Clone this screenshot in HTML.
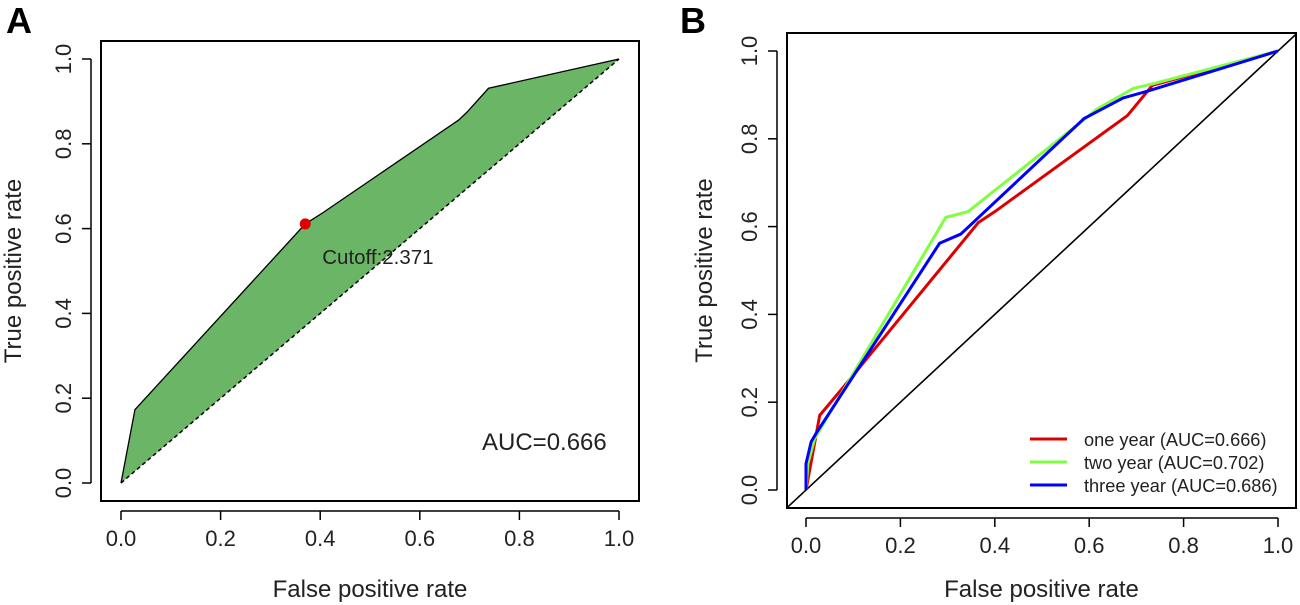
<!DOCTYPE html>
<html><head><meta charset="utf-8"><style>
html,body{margin:0;padding:0;background:#fff;}
svg{display:block;font-family:"Liberation Sans",Arial,sans-serif;}
</style></head><body>
<svg id="fig" width="1300" height="605" viewBox="0 0 1300 605" xmlns="http://www.w3.org/2000/svg">
<text x="6" y="33" font-size="36" font-weight="bold">A</text>
<text x="680" y="33" font-size="36" font-weight="bold">B</text>
<g id="pa"></g>
<g id="pb"></g>
</svg>
<script>
const ticks=[0,0.2,0.4,0.6,0.8,1.0];
const tickLabels=["0.0","0.2","0.4","0.6","0.8","1.0"];
const aFpr=[0,0.028,0.37,0.406,0.678,0.695,0.738,1];
const aTpr=[0,0.173,0.611,0.638,0.856,0.875,0.931,1];
const cutoffFpr=0.37, cutoffTpr=0.611;
const oneFpr=[0,0.029,0.079,0.365,0.4,0.681,0.734,1];
const oneTpr=[0,0.17,0.234,0.609,0.634,0.853,0.922,1];
const twoFpr=[0,0.004,0.018,0.296,0.343,0.6,0.615,0.694,0.734,1];
const twoTpr=[0,0.06,0.116,0.621,0.634,0.853,0.867,0.915,0.925,1];
const threeFpr=[0,0,0.011,0.022,0.283,0.328,0.589,0.672,0.725,1];
const threeTpr=[0,0.06,0.11,0.13,0.562,0.583,0.846,0.893,0.909,1];
const seriesNames=["one year (AUC=0.666)","two year (AUC=0.702)","three year (AUC=0.686)"];
const NS="http://www.w3.org/2000/svg";
function mk(p,t,a){const e=document.createElementNS(NS,t);for(const k in a)e.setAttribute(k,a[k]);p.appendChild(e);return e;}
function axes(g,P,sx,sy){
 const box=mk(g,'rect',{x:P.bl,y:P.bt,width:P.br-P.bl,height:P.bb-P.bt,fill:'none',stroke:'#000','stroke-width':2});
 
 mk(g,'line',{x1:sx(0),x2:sx(1),y1:P.bb+10,y2:P.bb+10,stroke:'#000','stroke-width':1.5});
 mk(g,'line',{x1:P.bl-10,x2:P.bl-10,y1:sy(0),y2:sy(1),stroke:'#000','stroke-width':1.5});
 ticks.forEach((t,i)=>{
  mk(g,'line',{x1:sx(t),x2:sx(t),y1:P.bb+10,y2:P.bb+19,stroke:'#000','stroke-width':1.5});
  const xl=mk(g,'text',{x:sx(t),y:P.bb+45,'font-size':22,'text-anchor':'middle',fill:'#222'});xl.textContent=tickLabels[i];
  
  mk(g,'line',{x1:P.bl-10,x2:P.bl-19,y1:sy(t),y2:sy(t),stroke:'#000','stroke-width':1.5});
  const yl=mk(g,'text',{x:0,y:0,'font-size':22,'text-anchor':'middle',fill:'#222',transform:`translate(${P.bl-30},${sy(t)}) rotate(-90)`});yl.textContent=tickLabels[i];
  
 });
 const xt=mk(g,'text',{x:(P.bl+P.br)/2,y:P.xty,'font-size':24,'text-anchor':'middle',fill:'#222'});xt.textContent='False positive rate';
 
 const yt=mk(g,'text',{x:0,y:0,'font-size':24,'text-anchor':'middle',fill:'#222',transform:`translate(${P.ytx},${(P.bt+P.bb)/2}) rotate(-90)`});yt.textContent='True positive rate';
 
}
// Panel A
(function(){
 const g=document.getElementById('pa');
 const P={x0:121,x1:619,y0:483,y1:59,bl:101,br:639,bt:41,bb:501,ytx:21,xty:597};
 const sx=v=>P.x0+v*(P.x1-P.x0), sy=v=>P.y0+v*(P.y1-P.y0);
 let d='M'+aFpr.map((v,i)=>sx(v)+','+sy(aTpr[i])).join(' L')+' L'+sx(0)+','+sy(0)+'Z';
 const poly=mk(g,'path',{d,fill:'#6bb566',stroke:'none'});
 
 const ln=mk(g,'path',{d:'M'+aFpr.map((v,i)=>sx(v)+','+sy(aTpr[i])).join(' L'),fill:'none',stroke:'#000','stroke-width':1.3});
 
 const dg=mk(g,'line',{x1:sx(0),y1:sy(0),x2:sx(1),y2:sy(1),stroke:'#000','stroke-width':1.5,'stroke-dasharray':'4,3'});
 
 const pt=mk(g,'circle',{cx:sx(cutoffFpr),cy:sy(cutoffTpr),r:5.5,fill:'#e00000'});
 
 const ct=mk(g,'text',{x:sx(cutoffFpr)+17,y:sy(cutoffTpr)+40,'font-size':20.5,fill:'#222'});ct.textContent='Cutoff:2.371';
 
 const au=mk(g,'text',{x:482,y:450,'font-size':24,fill:'#222'});au.textContent='AUC=0.666';
 
 axes(g,P,sx,sy);
})();
// Panel B
(function(){
 const g=document.getElementById('pb');
 const P={x0:806,x1:1278,y0:490,y1:51,bl:787,br:1296,bt:33,bb:508,ytx:712,xty:597};
 const sx=v=>P.x0+v*(P.x1-P.x0), sy=v=>P.y0+v*(P.y1-P.y0);
 const tL=(P.bl-P.x0)/(P.x1-P.x0), tR=(P.br-P.x0)/(P.x1-P.x0);
 const dg=mk(g,'line',{x1:P.bl,y1:sy(tL),x2:P.br,y2:sy(tR),stroke:'#000','stroke-width':1.6});
 
 const S=[[oneFpr,oneTpr,'#dd0000','one-year-curve'],[twoFpr,twoTpr,'#80ff40','two-year-curve'],[threeFpr,threeTpr,'#0000ff','three-year-curve']];
 S.forEach(s=>{
  const p=mk(g,'path',{d:'M'+s[0].map((v,i)=>sx(v)+','+sy(s[1][i])).join(' L'),fill:'none',stroke:s[2],'stroke-width':3,'stroke-linejoin':'round'});
  
 });
 axes(g,P,sx,sy);
 S.forEach((s,i)=>{
  const y=439+i*23;
  const l=mk(g,'line',{x1:1030,x2:1067,y1:y,y2:y,stroke:s[2],'stroke-width':3});
  
  const t=mk(g,'text',{x:1084,y:y+7,'font-size':18.2,fill:'#222'});t.textContent=seriesNames[i];
  
 });
})();
</script>
</body></html>
